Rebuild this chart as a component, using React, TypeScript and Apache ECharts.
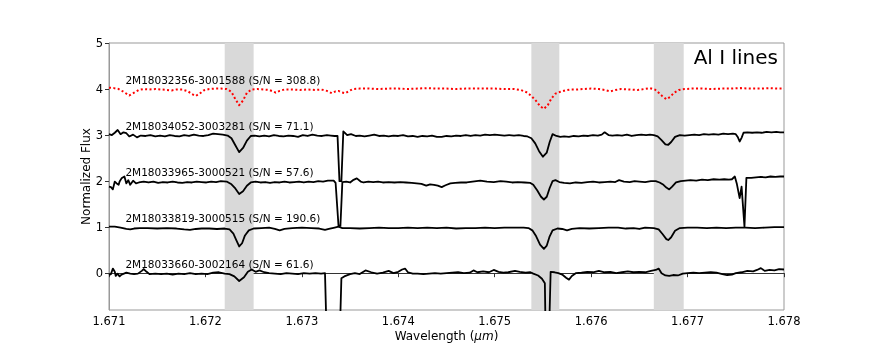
import React, { useEffect, useRef } from "react";
import * as echarts from "echarts";

const xTicks = [1.671, 1.672, 1.673, 1.674, 1.675, 1.676, 1.677, 1.678];
const yTicks = [0, 1, 2, 3, 4, 5];
const bands = [
  [1.6722, 1.6725],
  [1.67538, 1.67567],
  [1.67665, 1.67696],
];
const spectrumLabels = [
  "2M18032356-3001588 (S/N = 308.8)",
  "2M18034052-3003281 (S/N = 71.1)",
  "2M18033965-3000521 (S/N = 57.6)",
  "2M18033819-3000515 (S/N = 190.6)",
  "2M18033660-3002164 (S/N = 61.6)",
];
const offsets = [4, 3, 2, 1, 0];
const panelTitle = "Al I lines";

const spec4 = [
  [1.671, 4.03], [1.67105, 4.02], [1.6711, 4.0], [1.67115, 3.94], [1.67121, 3.86], [1.67126, 3.92],
  [1.67131, 3.98], [1.67136, 4.0], [1.67142, 3.99], [1.67148, 4.0], [1.67154, 3.99], [1.6716, 3.98],
  [1.67165, 3.97], [1.6717, 3.99], [1.67176, 3.99], [1.67182, 3.95], [1.67186, 3.89], [1.6719, 3.85],
  [1.67194, 3.9], [1.67198, 3.97], [1.67204, 4.0], [1.6721, 4.01], [1.67216, 4.01], [1.67222, 4.0],
  [1.67227, 3.94], [1.67231, 3.78], [1.67235, 3.65], [1.67239, 3.75], [1.67243, 3.92], [1.67248, 3.99],
  [1.67254, 4.0], [1.6726, 3.99], [1.67266, 3.98], [1.6727, 3.95], [1.67273, 3.92], [1.67277, 3.96],
  [1.67282, 3.99], [1.6729, 3.99], [1.67298, 3.98], [1.67306, 3.99], [1.67314, 3.98], [1.6732, 3.99],
  [1.67326, 3.96], [1.67331, 3.91], [1.67335, 3.95], [1.67338, 3.96], [1.67341, 3.93], [1.67345, 3.91],
  [1.67349, 3.96], [1.67353, 4.0], [1.6736, 4.01], [1.6737, 4.01], [1.6738, 4.0], [1.6739, 4.01],
  [1.674, 4.01], [1.6741, 4.0], [1.6742, 4.01], [1.6743, 4.02], [1.6744, 4.01], [1.6745, 4.01],
  [1.6746, 4.0], [1.6747, 4.01], [1.6748, 4.01], [1.6749, 4.01], [1.675, 4.01], [1.6751, 4.0],
  [1.6752, 4.0], [1.67527, 3.98], [1.67533, 3.93], [1.67538, 3.85], [1.67543, 3.74], [1.67547, 3.63],
  [1.67551, 3.57], [1.67555, 3.65], [1.67559, 3.8], [1.67563, 3.9], [1.67568, 3.94], [1.67573, 3.97],
  [1.67579, 3.99], [1.67585, 3.99], [1.67592, 4.0], [1.676, 4.01], [1.67608, 4.0], [1.67614, 3.98],
  [1.6762, 3.95], [1.67625, 3.98], [1.67631, 4.0], [1.6764, 3.99], [1.67648, 3.98], [1.67655, 4.0],
  [1.67661, 4.02], [1.67666, 3.99], [1.6767, 3.92], [1.67674, 3.84], [1.67678, 3.78], [1.67682, 3.83],
  [1.67686, 3.92], [1.67691, 3.98], [1.67697, 4.0], [1.67705, 4.01], [1.67715, 4.01], [1.67725, 4.0],
  [1.67735, 4.01], [1.67745, 4.01], [1.67755, 4.02], [1.67765, 4.01], [1.67775, 4.01], [1.67785, 4.02],
  [1.67795, 4.01], [1.678, 4.01],
];

const spec3 = [
  [1.671, 3.02], [1.67103, 3.0], [1.67106, 3.05], [1.67109, 3.11], [1.67112, 3.02], [1.67115, 3.06],
  [1.67118, 3.04], [1.67121, 2.97], [1.67125, 3.01], [1.67129, 2.95], [1.67133, 2.99], [1.67138, 2.98],
  [1.67143, 3.0], [1.67148, 2.97], [1.67153, 2.99], [1.67158, 2.97], [1.67163, 3.0], [1.67168, 2.98],
  [1.67173, 2.97], [1.67178, 3.0], [1.67183, 2.98], [1.67188, 3.01], [1.67193, 2.99], [1.67198, 2.98],
  [1.67203, 3.0], [1.67208, 3.03], [1.67213, 3.02], [1.67218, 3.01], [1.67223, 2.99], [1.67227, 2.93],
  [1.67231, 2.78], [1.67235, 2.63], [1.67239, 2.72], [1.67243, 2.88], [1.67247, 2.98], [1.67251, 2.99],
  [1.67256, 2.97], [1.67261, 2.99], [1.67266, 2.97], [1.67271, 3.0], [1.67276, 2.98], [1.67281, 2.97],
  [1.67286, 2.99], [1.67291, 2.98], [1.67296, 2.96], [1.67301, 3.0], [1.67306, 2.98], [1.67311, 3.01],
  [1.67316, 2.99], [1.67321, 2.98], [1.67326, 3.0], [1.6733, 2.99], [1.67334, 2.98], [1.67337, 2.98],
  [1.67339, 2.0], [1.67341, 2.0], [1.67343, 3.08], [1.67347, 3.0], [1.67351, 3.02], [1.67356, 2.98],
  [1.6736, 2.99], [1.67365, 2.97], [1.6737, 2.99], [1.67375, 3.01], [1.6738, 2.98], [1.67385, 2.99],
  [1.6739, 2.97], [1.67395, 2.99], [1.674, 2.98], [1.67405, 3.0], [1.6741, 2.97], [1.67415, 2.98],
  [1.6742, 2.96], [1.67425, 2.98], [1.6743, 2.97], [1.67435, 2.99], [1.6744, 2.96], [1.67445, 2.96],
  [1.6745, 2.98], [1.67455, 2.97], [1.6746, 2.99], [1.67465, 2.98], [1.6747, 3.0], [1.67475, 2.98],
  [1.6748, 3.0], [1.67485, 2.99], [1.6749, 3.01], [1.67495, 3.0], [1.675, 3.01], [1.67505, 3.0],
  [1.6751, 2.99], [1.67515, 3.0], [1.6752, 2.99], [1.67525, 3.0], [1.6753, 2.98], [1.67534, 2.97],
  [1.67538, 2.93], [1.67542, 2.82], [1.67546, 2.65], [1.6755, 2.53], [1.67554, 2.62], [1.67557, 2.85],
  [1.6756, 3.02], [1.67564, 2.98], [1.67568, 2.96], [1.67572, 2.97], [1.67577, 2.96], [1.67582, 2.98],
  [1.67587, 2.97], [1.67592, 2.99], [1.67597, 2.98], [1.67602, 3.0], [1.67607, 2.99], [1.67611, 3.01],
  [1.67614, 3.06], [1.67618, 3.0], [1.67622, 2.99], [1.67627, 3.0], [1.67632, 2.99], [1.67637, 3.01],
  [1.67642, 2.98], [1.67647, 3.0], [1.67652, 3.01], [1.67657, 3.0], [1.67661, 3.01], [1.67665, 3.0],
  [1.67669, 2.97], [1.67673, 2.89], [1.67677, 2.8], [1.6768, 2.79], [1.67683, 2.85], [1.67687, 2.96],
  [1.67692, 3.0], [1.67697, 2.99], [1.67702, 3.0], [1.67707, 3.01], [1.67712, 3.0], [1.67717, 3.02],
  [1.67722, 3.01], [1.67727, 3.02], [1.67732, 3.01], [1.67737, 3.03], [1.67742, 3.02], [1.67747, 3.03],
  [1.6775, 3.02], [1.67752, 2.96], [1.67754, 2.86], [1.67756, 2.94], [1.67758, 3.05], [1.67762, 3.06],
  [1.67767, 3.05], [1.67772, 3.06], [1.67777, 3.05], [1.67782, 3.07], [1.67787, 3.06], [1.67792, 3.07],
  [1.67796, 3.06], [1.678, 3.06],
];

const spec2 = [
  [1.671, 1.88], [1.67102, 1.87], [1.67104, 1.82], [1.67106, 1.99], [1.67108, 1.95], [1.6711, 1.92],
  [1.67111, 1.99], [1.67113, 2.06], [1.67116, 2.1], [1.67118, 1.95], [1.6712, 2.02], [1.67122, 1.92],
  [1.67125, 2.01], [1.67128, 1.95], [1.67131, 1.97], [1.67136, 1.99], [1.67141, 1.97], [1.67146, 1.99],
  [1.67151, 1.96], [1.67156, 1.98], [1.67161, 1.97], [1.67166, 1.99], [1.67171, 1.97], [1.67176, 1.96],
  [1.67181, 1.98], [1.67186, 1.97], [1.67191, 1.99], [1.67196, 1.98], [1.67201, 1.97], [1.67206, 1.99],
  [1.67211, 1.98], [1.67216, 2.0], [1.67222, 1.99], [1.67227, 1.93], [1.67231, 1.84], [1.67235, 1.72],
  [1.67239, 1.78], [1.67243, 1.9], [1.67247, 1.97], [1.67252, 1.99], [1.67257, 1.97], [1.67262, 1.98],
  [1.67267, 1.96], [1.67272, 1.98], [1.67277, 1.97], [1.67282, 1.99], [1.67287, 1.97], [1.67292, 1.98],
  [1.67297, 1.99], [1.67302, 1.97], [1.67307, 1.99], [1.67312, 1.98], [1.67317, 2.0], [1.67322, 1.99],
  [1.67327, 2.01], [1.67333, 2.01], [1.67335, 1.96], [1.67338, 1.03], [1.6734, 1.03], [1.67342, 1.98],
  [1.67346, 1.99], [1.6735, 1.97], [1.67353, 2.02], [1.67357, 2.06], [1.67361, 1.99], [1.67364, 1.97],
  [1.67369, 1.99], [1.67374, 1.98], [1.67379, 1.99], [1.67384, 1.97], [1.6739, 1.98], [1.67396, 1.97],
  [1.67402, 1.98], [1.67408, 1.97], [1.67414, 1.96], [1.67419, 1.95], [1.67424, 1.94], [1.67429, 1.9],
  [1.67433, 1.93], [1.67437, 1.92], [1.67441, 1.9], [1.67445, 1.87], [1.67449, 1.91], [1.67454, 1.95],
  [1.67459, 1.96], [1.67465, 1.97], [1.67471, 1.97], [1.67477, 1.99], [1.67485, 2.01], [1.67492, 1.99],
  [1.67499, 1.98], [1.67506, 2.0], [1.67512, 1.99], [1.67518, 1.97], [1.67524, 1.98], [1.67531, 1.97],
  [1.67537, 1.96], [1.6754, 1.92], [1.67544, 1.8], [1.67548, 1.66], [1.67551, 1.6], [1.67554, 1.66],
  [1.67557, 1.85], [1.6756, 2.0], [1.67563, 2.02], [1.67567, 1.98], [1.67572, 1.96], [1.67578, 1.95],
  [1.67584, 1.97], [1.6759, 1.96], [1.67596, 1.98], [1.67602, 1.99], [1.67608, 1.97], [1.67614, 1.98],
  [1.6762, 1.99], [1.67625, 1.98], [1.67629, 2.02], [1.67634, 1.99], [1.6764, 1.98], [1.67645, 2.0],
  [1.6765, 1.99], [1.67656, 1.98], [1.67662, 2.0], [1.67667, 2.0], [1.67671, 1.97], [1.67675, 1.92],
  [1.67678, 1.86], [1.67681, 1.82], [1.67684, 1.88], [1.67688, 1.97], [1.67693, 2.0], [1.67698, 2.01],
  [1.67703, 2.02], [1.67709, 2.01], [1.67715, 2.03], [1.67721, 2.02], [1.67727, 2.04], [1.67733, 2.03],
  [1.67738, 2.04], [1.67743, 2.03], [1.67746, 2.04], [1.67749, 2.1], [1.67751, 1.95], [1.67754, 1.63],
  [1.67756, 1.88], [1.67759, 1.01], [1.67761, 2.07], [1.67766, 2.07], [1.67771, 2.08], [1.67776, 2.09],
  [1.67781, 2.08], [1.67786, 2.1], [1.67791, 2.09], [1.67796, 2.1], [1.678, 2.1],
];

const spec1 = [
  [1.671, 1.01], [1.67106, 1.01], [1.67112, 0.99], [1.67118, 0.96], [1.67122, 0.95], [1.67126, 0.97],
  [1.67132, 0.98], [1.6714, 0.98], [1.6715, 0.97], [1.6716, 0.98], [1.6717, 0.97], [1.67178, 0.95],
  [1.67184, 0.94], [1.6719, 0.96], [1.67196, 0.97], [1.67204, 0.97], [1.67212, 0.96], [1.6722, 0.97],
  [1.67225, 0.95], [1.67229, 0.86], [1.67232, 0.72], [1.67235, 0.58], [1.67238, 0.65], [1.67241, 0.82],
  [1.67245, 0.93], [1.6725, 0.97], [1.67258, 0.98], [1.67266, 0.99], [1.67272, 0.96], [1.67277, 0.93],
  [1.67282, 0.96], [1.6729, 0.98], [1.673, 0.99], [1.6731, 0.98], [1.67318, 0.97], [1.67324, 0.94],
  [1.67328, 0.96], [1.67334, 0.99], [1.67338, 1.01], [1.67342, 0.98], [1.6735, 0.98], [1.6736, 0.97],
  [1.6737, 0.98], [1.6738, 0.99], [1.6739, 0.98], [1.674, 0.98], [1.6741, 0.99], [1.6742, 0.98],
  [1.6743, 0.99], [1.6744, 0.98], [1.6745, 0.99], [1.6746, 0.97], [1.6747, 0.98], [1.6748, 0.98],
  [1.6749, 0.99], [1.675, 0.98], [1.6751, 0.99], [1.6752, 0.99], [1.6753, 0.99], [1.67535, 0.98],
  [1.67539, 0.93], [1.67543, 0.8], [1.67547, 0.62], [1.67551, 0.53], [1.67554, 0.6], [1.67557, 0.8],
  [1.6756, 0.93], [1.67565, 0.97], [1.6757, 0.96], [1.67575, 0.93], [1.6758, 0.96], [1.67588, 0.98],
  [1.67598, 0.97], [1.67608, 0.98], [1.67618, 0.99], [1.67628, 0.99], [1.67636, 0.97], [1.67644, 0.98],
  [1.6765, 0.96], [1.67656, 0.99], [1.67665, 0.98], [1.6767, 0.95], [1.67674, 0.85], [1.67678, 0.74],
  [1.6768, 0.72], [1.67683, 0.78], [1.67687, 0.92], [1.67692, 0.98], [1.677, 0.99], [1.6771, 0.99],
  [1.6772, 0.98], [1.6773, 0.99], [1.6774, 0.98], [1.6775, 0.99], [1.6776, 0.99], [1.6777, 0.98],
  [1.6778, 0.99], [1.6779, 1.0], [1.678, 1.0],
];

const spec0 = [
  [1.671, -0.04], [1.67102, -0.02], [1.67104, 0.1], [1.67106, 0.03], [1.67107, -0.06], [1.67109, -0.01],
  [1.67111, -0.07], [1.67113, -0.03], [1.67118, 0.01], [1.67122, -0.01], [1.67126, -0.02], [1.6713, -0.01],
  [1.67134, 0.05], [1.67136, 0.09], [1.67139, 0.03], [1.67142, -0.02], [1.67148, -0.01], [1.67154, -0.02],
  [1.6716, -0.01], [1.67166, -0.03], [1.67172, -0.01], [1.67178, -0.02], [1.67184, 0.0], [1.6719, -0.02],
  [1.67196, -0.01], [1.67202, -0.02], [1.67208, 0.01], [1.67214, 0.02], [1.6722, -0.01], [1.67225, -0.02],
  [1.6723, -0.07], [1.67235, -0.17], [1.6724, -0.09], [1.67244, 0.03], [1.67248, 0.08], [1.67252, 0.03],
  [1.67256, 0.06], [1.67261, 0.02], [1.67266, 0.0], [1.67272, -0.01], [1.67278, -0.02], [1.67284, 0.0],
  [1.6729, -0.01], [1.67296, -0.02], [1.67302, 0.0], [1.67308, -0.01], [1.67314, 0.0], [1.6732, -0.01],
  [1.67324, 0.0], [1.67326, -1.6], [1.67339, -1.6], [1.67341, -0.11], [1.67344, -0.07], [1.6735, -0.02],
  [1.67355, 0.0], [1.6736, -0.02], [1.67366, 0.06], [1.67372, 0.02], [1.67378, -0.01], [1.67384, 0.01],
  [1.6739, 0.05], [1.67395, 0.0], [1.674, 0.03], [1.67404, 0.08], [1.67407, 0.1], [1.6741, 0.02],
  [1.67415, -0.01], [1.6742, -0.01], [1.67426, -0.02], [1.67432, -0.01], [1.67438, 0.0], [1.67444, -0.01],
  [1.6745, 0.0], [1.67456, 0.01], [1.67462, 0.02], [1.67468, 0.0], [1.67474, 0.01], [1.67478, 0.06],
  [1.67482, 0.02], [1.67488, 0.04], [1.67494, 0.02], [1.67499, 0.07], [1.67504, 0.03], [1.67509, 0.01],
  [1.67514, 0.02], [1.67521, 0.05], [1.67526, 0.03], [1.67532, 0.01], [1.67537, 0.02], [1.6754, -0.01],
  [1.67545, -0.05], [1.67549, -0.12], [1.67552, -0.22], [1.67553, -1.6], [1.67556, -1.6], [1.67558, 0.03],
  [1.67562, 0.02], [1.67566, 0.0], [1.6757, -0.03], [1.67574, -0.1], [1.67577, -0.14], [1.6758, -0.06],
  [1.67584, 0.0], [1.6759, 0.01], [1.67596, 0.03], [1.67602, 0.02], [1.67608, 0.05], [1.67614, 0.02],
  [1.6762, 0.03], [1.67626, 0.0], [1.67632, 0.02], [1.67638, 0.04], [1.67644, 0.02], [1.6765, 0.03],
  [1.67656, 0.02], [1.67662, 0.05], [1.67667, 0.07], [1.6767, 0.1], [1.67673, 0.0], [1.67677, -0.05],
  [1.67681, -0.06], [1.67685, -0.04], [1.6769, -0.05], [1.67695, -0.01], [1.677, 0.0], [1.67706, 0.01],
  [1.67712, 0.0], [1.67718, 0.01], [1.67724, 0.02], [1.6773, 0.01], [1.67736, -0.02], [1.67741, -0.04],
  [1.67746, -0.03], [1.6775, 0.0], [1.67756, 0.02], [1.67762, 0.05], [1.67768, 0.04], [1.67772, 0.07],
  [1.67776, 0.11], [1.6778, 0.05], [1.67785, 0.07], [1.6779, 0.06], [1.67795, 0.09], [1.678, 0.08],
];

const spectra = [spec4, spec3, spec2, spec1, spec0];
const spectrumColors = ["#ff0000", "#000000", "#000000", "#000000", "#000000"];

const FONT = "DejaVu Sans";

export default function App() {
  const ref = useRef<HTMLDivElement>(null);

  useEffect(() => {
    if (!ref.current) return;
    const chart = echarts.init(ref.current, null, { renderer: "svg" });

    const lineSeries = spectra.map((data, i) => ({
      type: "line",
      name: spectrumLabels[i],
      data,
      showSymbol: false,
      symbol: "none",
      clip: true,
      z: 3,
      lineStyle: {
        color: spectrumColors[i],
        width: i === 0 ? 2 : 1.8,
        type: i === 0 ? [2, 2.4] : "solid",
        join: "round",
      },
    }));

    const labelSeries = {
      type: "scatter",
      symbolSize: 0,
      z: 4,
      silent: true,
      itemStyle: { opacity: 1, color: "#000" },
      data: spectrumLabels.map((t, i) => ({ value: [1.67117, offsets[i] + 0.19], name: t })),
      label: {
        show: true,
        position: "right",
        distance: 0,
        formatter: (p: any) => p.name,
        color: "#000",
        opacity: 1,
        fontFamily: FONT,
        fontSize: 10.5,
      },
    };

    const bandSeries = {
      type: "line",
      data: [],
      z: 1,
      silent: true,
      markArea: {
        silent: true,
        itemStyle: { color: "#d9d9d9", opacity: 1 },
        data: bands.map((b) => [{ xAxis: b[0] }, { xAxis: b[1] }]),
      },
    };

    chart.setOption({
      animation: false,
      grid: {
        left: 109,
        right: 88,
        top: 43,
        bottom: 39,
        containLabel: false,
        outerBoundsMode: "none",
        show: true,
        borderColor: "#999",
        borderWidth: 1,
        backgroundColor: "transparent",
      },
      graphic: [
        {
          type: "text",
          x: 778,
          y: 57,
          style: {
            text: panelTitle,
            fontFamily: FONT,
            fontSize: 20,
            fill: "#000",
            align: "right",
            verticalAlign: "middle",
          },
        },
      ],
      xAxis: {
        type: "value",
        min: 1.671,
        max: 1.678,
        name: "Wavelength ({i|μm})",
        nameLocation: "middle",
        nameGap: 20,
        nameMoveOverlap: false,
        nameTextStyle: {
          fontFamily: FONT,
          fontSize: 12,
          color: "#000",
          rich: { i: { fontStyle: "italic", fontFamily: FONT, fontSize: 12, color: "#000" } },
        },
        splitLine: { show: false },
        axisLine: { lineStyle: { color: "#333", width: 1 } },
        axisTick: { length: 4, lineStyle: { color: "#333" }, customValues: xTicks },
        axisLabel: {
          customValues: xTicks,
          formatter: (v: number) => v.toFixed(3),
          fontFamily: FONT,
          fontSize: 11.5,
          color: "#000",
          margin: 5,
        },
      },
      yAxis: {
        type: "value",
        min: -0.8,
        max: 5,
        name: "Normalized Flux",
        nameLocation: "middle",
        nameGap: 17,
        nameMoveOverlap: false,
        nameTextStyle: { fontFamily: FONT, fontSize: 12, color: "#000" },
        splitLine: { show: false },
        axisLine: { show: true, lineStyle: { color: "#999", width: 1 } },
        axisTick: { show: true, length: 4, lineStyle: { color: "#333" }, customValues: yTicks },
        axisLabel: {
          customValues: yTicks,
          fontFamily: FONT,
          fontSize: 11.5,
          color: "#000",
          margin: 6,
        },
      },
      series: [bandSeries, ...lineSeries, labelSeries],
    });

    return () => chart.dispose();
  }, []);

  return (
    <div
      ref={ref}
      style={{ position: "fixed", left: 0, top: 0, width: 872, height: 349 }}
    />
  );
}
